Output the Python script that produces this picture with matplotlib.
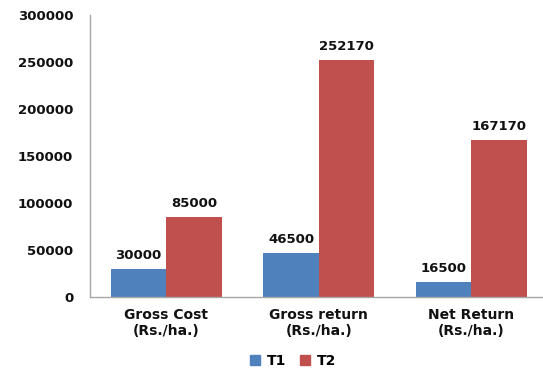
import matplotlib.pyplot as plt
import numpy as np
from matplotlib.lines import Line2D

# --- Dados ---
categorias = ["Gross Cost\n(Rs./ha.)", "Gross return\n(Rs./ha.)", "Net Return\n(Rs./ha.)"]
t1 = [30000, 46500, 16500]
t2 = [85000, 252170, 167170]
series = ["T1", "T2"]

cor_t1 = "#4F81BD"
cor_t2 = "#C0504D"

plt.rcParams["font.family"] = "DejaVu Sans"
plt.rcParams["font.weight"] = "bold"

fig = plt.figure(figsize=(5.43, 3.69), dpi=100)
ax = fig.add_axes([0.1657, 0.195, 0.8343, 0.764])

ind = np.arange(len(categorias))
largura = 0.364

b1 = ax.bar(ind - largura / 2, t1, width=largura, color=cor_t1)
b2 = ax.bar(ind + largura / 2, t2, width=largura, color=cor_t2)

# rótulos de valor acima das barras
for barras, valores in [(b1, t1), (b2, t2)]:
    for barra, v in zip(barras, valores):
        ax.annotate(
            str(v),
            (barra.get_x() + barra.get_width() / 2, v),
            xytext=(0, 5),
            textcoords="offset points",
            ha="center",
            va="bottom",
            fontsize=9.5,
            fontweight="bold",
            color="#111111",
        )

ax.set_xlim(-0.5, 2.47)
ax.set_ylim(0, 300000)
ax.set_yticks(np.arange(0, 300001, 50000))
ax.set_xticks(ind)
ax.set_xticklabels(categorias, linespacing=1.15)
ax.tick_params(axis="y", length=0, pad=12, labelsize=9.5, labelcolor="#111111")
ax.tick_params(axis="x", length=0, pad=8, labelsize=10, labelcolor="#111111")

for s in ["top", "right"]:
    ax.spines[s].set_visible(False)
for s in ["left", "bottom"]:
    ax.spines[s].set_color("#A6A6A6")
    ax.spines[s].set_linewidth(1.0)

handles = [
    Line2D([], [], marker="s", linestyle="", markersize=7, color=cor_t1),
    Line2D([], [], marker="s", linestyle="", markersize=7, color=cor_t2),
]
fig.legend(
    handles,
    series,
    loc="center",
    bbox_to_anchor=(0.538, 0.022),
    ncol=2,
    frameon=False,
    fontsize=10,
    handletextpad=0.35,
    columnspacing=0.8,
    handlelength=1.0,
)

fig.savefig("out.png", dpi=100)
